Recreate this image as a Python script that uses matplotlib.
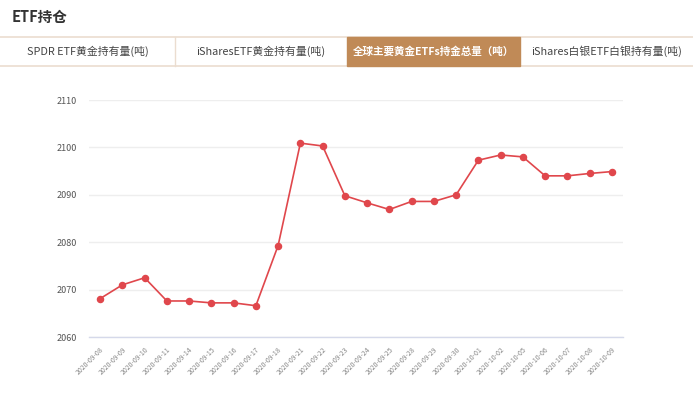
import matplotlib
matplotlib.use('Agg')
import matplotlib.pyplot as plt
from matplotlib.patches import Rectangle

plt.rcParams['font.family'] = ['Noto Sans CJK SC', 'DejaVu Sans']

# data
dates = ['2020-09-08', '2020-09-09', '2020-09-10', '2020-09-11', '2020-09-14',
         '2020-09-15', '2020-09-16', '2020-09-17', '2020-09-18', '2020-09-21',
         '2020-09-22', '2020-09-23', '2020-09-24', '2020-09-25', '2020-09-28',
         '2020-09-29', '2020-09-30', '2020-10-01', '2020-10-02', '2020-10-05',
         '2020-10-06', '2020-10-07', '2020-10-08', '2020-10-09']
holdings = [2068.1, 2071.0, 2072.5, 2067.6, 2067.6, 2067.2, 2067.2, 2066.6,
            2079.3, 2100.9, 2100.3, 2089.8, 2088.3, 2086.9, 2088.6, 2088.6,
            2090.0, 2097.3, 2098.4, 2098.0, 2094.0, 2094.0, 2094.5, 2094.9]
yticks = [2060, 2070, 2080, 2090, 2100, 2110]
tabs = ['SPDR ETF黄金持有量(吨)', 'iSharesETF黄金持有量(吨)',
        '全球主要黄金ETFs持金总量（吨）', 'iShares白银ETF白银持有量(吨)']
active_tab = 2

W, H = 693, 398
fig = plt.figure(figsize=(W / 100, H / 100), dpi=100)

# header: title + tab strip
fig.text(12 / W, 1 - 17 / H, 'ETF持仓', fontsize=10.5, fontweight='bold',
         color='#333333', va='center', ha='left')
tab_top, tab_bot = 37, 66
edges = [0, 175, 347, 520, 693]
line_col = '#EBDDD0'
for y in (tab_top, tab_bot):
    fig.add_artist(plt.Line2D([0, 1], [1 - y / H, 1 - y / H], color=line_col,
                              lw=1.2, transform=fig.transFigure))
for i, name in enumerate(tabs):
    x0, x1 = edges[i], edges[i + 1]
    if i == active_tab:
        fig.add_artist(Rectangle((x0 / W, 1 - tab_bot / H), (x1 - x0) / W,
                                 (tab_bot - tab_top) / H, color='#C08A57',
                                 transform=fig.transFigure, zorder=2))
        fig.text((x0 + x1) / 2 / W, 1 - (tab_top + tab_bot) / 2 / H, name,
                 fontsize=7.6, color='white', fontweight='bold',
                 ha='center', va='center', zorder=3)
    else:
        fig.text((x0 + x1) / 2 / W, 1 - (tab_top + tab_bot) / 2 / H, name,
                 fontsize=7.8, color='#444444', ha='center', va='center')
    if 0 < i < len(tabs) and i not in (active_tab, active_tab + 1):
        fig.add_artist(plt.Line2D([x0 / W, x0 / W], [1 - tab_bot / H, 1 - tab_top / H],
                                  color=line_col, lw=1, transform=fig.transFigure))

# chart
ax = fig.add_axes([89 / W, 1 - 337 / H, 534 / W, 237 / H])
x = list(range(len(dates)))
ax.plot(x, holdings, color='#E0474C', lw=1.2, marker='o', markersize=4.4,
        zorder=3)
ax.set_xlim(-0.5, len(dates) - 0.5)
ax.set_ylim(yticks[0], yticks[-1])
ax.set_yticks(yticks)
ax.set_xticks(x)
ax.set_xticklabels(dates, rotation=45, ha='right', rotation_mode='anchor',
                   fontsize=5, color='#888888')
ax.tick_params(axis='x', length=0, pad=6)
ax.tick_params(axis='y', length=0, pad=9, labelsize=6.5, labelcolor='#555555')
ax.grid(axis='y', color='#EEEEEE', lw=1)
ax.set_axisbelow(True)
for s in ('top', 'right', 'left'):
    ax.spines[s].set_visible(False)
ax.spines['bottom'].set_color('#D5D9EA')
ax.spines['bottom'].set_linewidth(1)

fig.savefig('out.png', dpi=100)
